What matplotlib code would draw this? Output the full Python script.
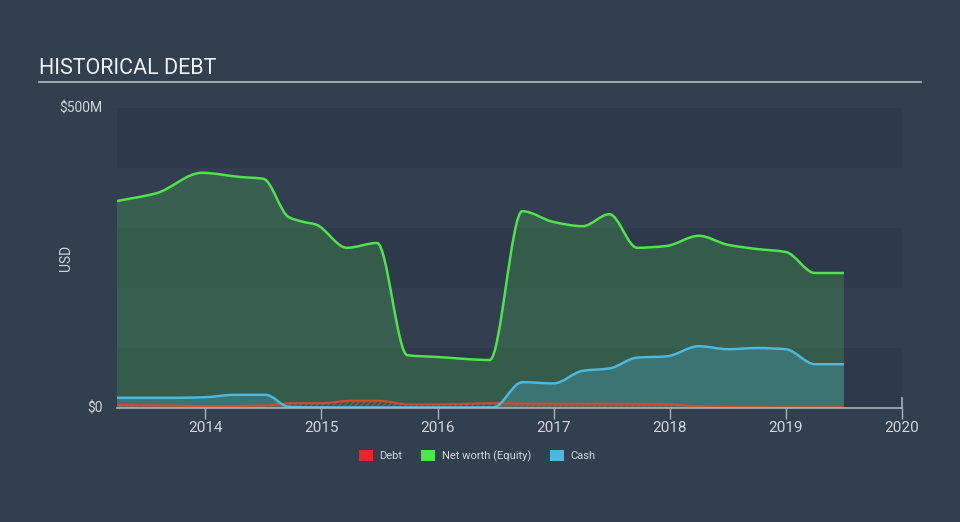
import matplotlib
matplotlib.use("Agg")
import matplotlib.pyplot as plt
import numpy as np
from matplotlib.path import Path
from matplotlib.patches import PathPatch, Patch

# values in $M, x in decimal years
nw_x = [2013.24, 2013.58, 2013.97, 2014.3, 2014.5, 2014.72, 2014.85, 2014.95, 2015.22,
        2015.48, 2015.74, 2016.0, 2016.45, 2016.73, 2017.0, 2017.25, 2017.48, 2017.72,
        2017.97, 2018.25, 2018.5, 2018.75, 2019.0, 2019.25, 2019.5]
nw_y = [345, 358, 392, 385, 382, 318, 310, 306, 267,
        275, 88, 85, 80, 328, 310, 303, 323, 267,
        270, 287, 272, 265, 260, 225, 225]

cash_x = [2013.24, 2013.75, 2014.0, 2014.25, 2014.52, 2014.72, 2015.0, 2015.5, 2016.0,
          2016.48, 2016.73, 2017.0, 2017.25, 2017.48, 2017.72, 2017.97, 2018.25, 2018.5,
          2018.75, 2019.0, 2019.25, 2019.5]
cash_y = [17, 17, 18, 22, 22, 2, 1, 1, 1,
          1, 43, 41, 62, 66, 84, 86, 103, 98,
          100, 98, 73, 73]

debt_x = [2013.24, 2013.75, 2014.0, 2014.5, 2014.75, 2015.0, 2015.25, 2015.5, 2015.75,
          2016.0, 2016.5, 2017.0, 2017.5, 2018.0, 2018.25, 2018.5, 2019.0, 2019.5]
debt_y = [5, 4, 3, 4, 8, 8, 12, 12, 6,
          6, 8, 7, 7, 6, 3, 2, 1, 1]

years = [2014, 2015, 2016, 2017, 2018, 2019, 2020]

BG = "#323f4f"
TEXT = "#d2d6db"
AXIS = "#a9b1ba"
plt.rcParams["font.family"] = ["Roboto", "DejaVu Sans"]


def smooth_path(xs, ys, close=False):
    # monotone cubic (Fritsch-Carlson) tangents -> bezier segments
    x = np.asarray(xs, float)
    y = np.asarray(ys, float)
    h = np.diff(x)
    d = np.diff(y) / h
    m = np.zeros_like(y)
    m[0], m[-1] = d[0], d[-1]
    for i in range(1, len(y) - 1):
        if d[i - 1] * d[i] <= 0:
            m[i] = 0
        else:
            w1 = 2 * h[i] + h[i - 1]
            w2 = h[i] + 2 * h[i - 1]
            m[i] = (w1 + w2) / (w1 / d[i - 1] + w2 / d[i])
    verts = [(x[0], y[0])]
    codes = [Path.MOVETO]
    for i in range(len(x) - 1):
        verts += [(x[i] + h[i] / 3, y[i] + m[i] * h[i] / 3),
                  (x[i + 1] - h[i] / 3, y[i + 1] - m[i + 1] * h[i] / 3),
                  (x[i + 1], y[i + 1])]
        codes += [Path.CURVE4] * 3
    if close:
        verts += [(x[-1], 0), (x[0], 0), (x[0], y[0])]
        codes += [Path.LINETO, Path.LINETO, Path.CLOSEPOLY]
    return Path(verts, codes)


fig = plt.figure(figsize=(9.6, 5.22), dpi=100, facecolor=BG)
ax = fig.add_axes([117 / 960, 1 - 408 / 522, 785 / 960, 300 / 522])
ax.set_facecolor(BG)
ax.set_xlim(2013.24, 2020.0)
ax.set_ylim(0, 500)

# horizontal bands
for i, lo in enumerate(range(0, 500, 100)):
    ax.axhspan(lo, lo + 100, color="#2e3a4b" if i % 2 == 0 else "#333f50", lw=0, zorder=0)

# net worth
ax.add_patch(PathPatch(smooth_path(nw_x, nw_y, True), facecolor="#4cc84c", alpha=0.24,
                       edgecolor="none", zorder=1))
ax.add_patch(PathPatch(smooth_path(nw_x, nw_y), facecolor="none", edgecolor="#4ee44a",
                       lw=1.8, zorder=4))

# cash
ax.add_patch(PathPatch(smooth_path(cash_x, cash_y, True), facecolor="#4cb8d8", alpha=0.28,
                       edgecolor="none", zorder=2))
ax.add_patch(PathPatch(smooth_path(cash_x, cash_y), facecolor="none", edgecolor="#4bb8dc",
                       lw=1.8, zorder=5))

# debt
plt.rcParams["hatch.color"] = "#b85040"
plt.rcParams["hatch.linewidth"] = 0.7
ax.add_patch(PathPatch(smooth_path(debt_x, debt_y, True), facecolor="none", hatch="//////",
                       edgecolor="#b85040", lw=0, zorder=3))
ax.add_patch(PathPatch(smooth_path(debt_x, debt_y), facecolor="none", edgecolor="#d64a2c",
                       lw=1.5, zorder=3))

for s in ["top", "right", "left"]:
    ax.spines[s].set_visible(False)
ax.spines["bottom"].set_color(AXIS)
ax.spines["bottom"].set_linewidth(1.2)
ax.spines["bottom"].set_zorder(6)
ax.plot([2020, 2020], [0, 17], color=AXIS, lw=1.2, clip_on=False, zorder=6)

ax.set_xticks(years)
ax.set_xticklabels([str(y) for y in years])
ax.tick_params(axis="x", colors=AXIS, length=8, width=1, labelcolor=TEXT, labelsize=11, pad=1)
ax.set_yticks([])

ax.text(-0.018, 1.0, "$500M", transform=ax.transAxes, ha="right", va="center",
        color=TEXT, fontsize=10)
ax.text(-0.018, 0.0, "$0", transform=ax.transAxes, ha="right", va="center",
        color=TEXT, fontsize=10)
fig.text(66 / 960, 1 - 258 / 522, "USD", rotation=90, ha="center", va="center",
         color=TEXT, fontsize=10)

# title + rule
fig.text(39 / 960, 1 - 69 / 522, "HISTORICAL DEBT", ha="left", va="center",
         color="#eef0f2", fontsize=15.5)
fig.add_artist(plt.Line2D([39 / 960, 921 / 960], [1 - 82 / 522, 1 - 82 / 522],
                          color="#b8bec5", lw=1.2))

handles = [Patch(facecolor="#e8262a", label="Debt"),
           Patch(facecolor="#4ee44e", label="Net worth (Equity)"),
           Patch(facecolor="#4cb8e0", label="Cash")]
leg = fig.legend(handles=handles, loc="center", bbox_to_anchor=(477 / 960, 1 - 456 / 522),
                 ncol=3, frameon=False, fontsize=8, handlelength=1.3, handleheight=1.15,
                 handletextpad=0.55, columnspacing=1.7)
for t in leg.get_texts():
    t.set_color(TEXT)

fig.savefig("out.png", dpi=100, facecolor=BG)
